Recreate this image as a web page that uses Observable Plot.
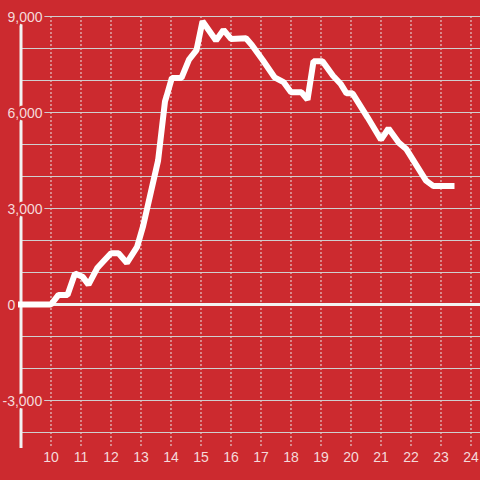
<!DOCTYPE html>
<html><head><meta charset="utf-8">
<script src="https://cdn.jsdelivr.net/npm/d3@7"></script>
<script src="https://cdn.jsdelivr.net/npm/@observablehq/plot@0.6"></script>
<style>
html,body{margin:0;padding:0;background:#cc2a2f;}
svg{display:block;}
</style></head><body><div id="chart"></div>
<script>
const hours  = [9, 10.0, 10.25, 10.55, 10.8, 11.05, 11.25, 11.55, 11.75, 12.0, 12.25, 12.53, 12.87, 13.07, 13.57, 13.8, 13.85, 14.03, 14.35, 14.6, 14.85, 15.05, 15.5, 15.75, 16.0, 16.5, 16.7, 17.05, 17.45, 17.75, 18.0, 18.35, 18.55, 18.75, 19.05, 19.4, 19.65, 19.85, 20.05, 20.55, 21.0, 21.25, 21.6, 21.85, 22.5, 22.75, 23.35];
const values = [0, 0, 300, 300, 970, 870, 620, 1150, 1350, 1600, 1600, 1300, 1800, 2450, 4500, 6350, 6500, 7080, 7080, 7650, 7950, 8850, 8250, 8580, 8300, 8320, 8100, 7650, 7100, 6950, 6630, 6630, 6400, 7600, 7600, 7150, 6900, 6600, 6600, 5850, 5150, 5500, 5050, 4850, 3870, 3700, 3700];
const xTicks = [10, 11, 12, 13, 14, 15, 16, 17, 18, 19, 20, 21, 22, 23, 24];
const yGrid = [-4000, -3000, -2000, -1000, 0, 1000, 2000, 3000, 4000, 5000, 6000, 7000, 8000, 9000];
const yLabelsPos = [9000, 6000, 3000, 0];
const yLabelsNeg = [-3000];

const data = hours.map((h, i) => ({h, v: values[i]}));
const bg = "#cc2a2f";
const txt = "#f5d9da";
const fmt = d => d3.format(",")(d).replace("\u2212", "-");

const plot = Plot.plot({
  width: 480, height: 480,
  marginTop: 16, marginBottom: 32, marginLeft: 20.5, marginRight: 0,
  style: {background: bg, fontFamily: "'Liberation Sans', Arial, sans-serif", fontSize: "14px", color: txt},
  x: {domain: [9, 24.3167], axis: null},
  y: {domain: [-4500, 9000], axis: null},
  marks: [
    Plot.ruleX(xTicks, {x: d => d, stroke: "#e8e8e8", strokeDasharray: "2,2", strokeWidth: 1}),
    Plot.ruleY(yGrid, {y: d => d, stroke: "#cfcfcf", strokeWidth: 1}),
    Plot.ruleY([0], {y: d => d, stroke: "#f2f2f2", strokeWidth: 3}),
    Plot.ruleX([9], {x: d => d, stroke: "#f2f2f2", strokeWidth: 3}),
    Plot.line(data, {x: "h", y: "v", stroke: "#ffffff", strokeWidth: 6, strokeLinejoin: "miter", strokeLinecap: "square"}),
    Plot.text(yLabelsPos, {x: 9, y: d => d, text: fmt, textAnchor: "start", dx: -13.5, dy: 1, fill: txt, stroke: bg, strokeWidth: 5, paintOrder: "stroke", fontSize: 14}),
    Plot.text(yLabelsNeg, {x: 9, y: d => d, text: fmt, textAnchor: "start", dx: -18.5, dy: 1, fill: txt, stroke: bg, strokeWidth: 5, paintOrder: "stroke", fontSize: 14}),
    Plot.text(xTicks, {x: d => d, frameAnchor: "bottom", text: d => String(d), dy: 13, fill: txt, fontSize: 14})
  ]
});
document.getElementById("chart").appendChild(plot);
</script></body></html>
